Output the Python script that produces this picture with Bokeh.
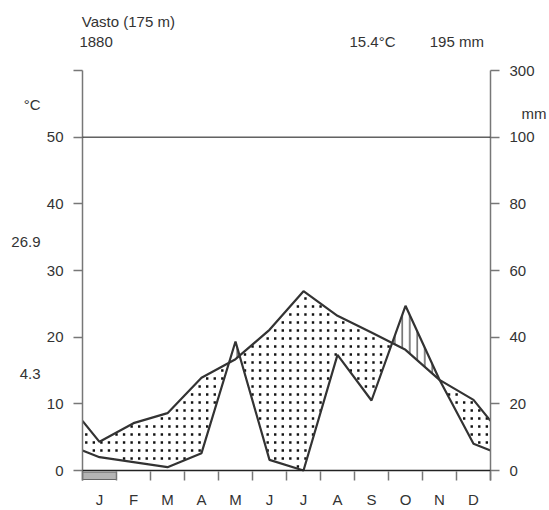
import numpy as np
from bokeh.plotting import figure
from bokeh.models import LinearAxis, FixedTicker, Span
from bokeh.embed import file_html
from bokeh.resources import INLINE

# ---------------- data ----------------
station = "Vasto (175 m)"
period = "1880"
mean_temp = 15.4
annual_precip = 195
months = ["J", "F", "M", "A", "M", "J", "J", "A", "S", "O", "N", "D"]
temp = [4.3, 7.1, 8.6, 13.9, 16.7, 21.1, 26.9, 23.2, 20.7, 18.1, 13.6, 10.6]
precip = [4.0, 2.5, 1.0, 5.2, 38.7, 3.2, 0.0, 34.7, 21.0, 49.4, 27.2, 8.0]
frost = [1, 0, 0, 0, 0, 0, 0, 0, 0, 0, 0, 0]
temp_ticks = [0, 10, 20, 30, 40, 50, 60]
temp_tick_labels = ["0", "10", "20", "30", "40", "50", ""]
precip_tick_labels = ["0", "20", "40", "60", "80", "100", "300"]

FONT = "Liberation Sans"
TXT = "#333333"
AX = "#777777"
FS = "15px"

# ---------------- derived series ----------------
def scale_p(v):
    return v / 2.0 if v <= 100 else 50 + (v - 100) / 20.0

xs = [0.0] + [i + 0.5 for i in range(12)] + [12.0]
t_edge = (temp[-1] + temp[0]) / 2.0
p_edge = (precip[-1] + precip[0]) / 2.0
ts = [t_edge] + list(temp) + [t_edge]
ps = [scale_p(v) for v in [p_edge] + list(precip) + [p_edge]]

# refine with crossing points
pts = [(xs[0], ts[0], ps[0])]
for i in range(len(xs) - 1):
    d0 = ts[i] - ps[i]
    d1 = ts[i + 1] - ps[i + 1]
    if d0 * d1 < 0:
        f = d0 / (d0 - d1)
        xc = xs[i] + f * (xs[i + 1] - xs[i])
        yc = ts[i] + f * (ts[i + 1] - ts[i])
        pts.append((xc, yc, yc))
    pts.append((xs[i + 1], ts[i + 1], ps[i + 1]))

humid_x, humid_y = [], []
seg_sign = []
for i in range(len(pts) - 1):
    dm = (pts[i][1] + pts[i + 1][1]) / 2 - (pts[i][2] + pts[i + 1][2]) / 2
    seg_sign.append(1 if dm >= 0 else -1)
i = 0
while i < len(seg_sign):
    j = i
    while j + 1 < len(seg_sign) and seg_sign[j + 1] == seg_sign[i]:
        j += 1
    a, b = i, j + 1
    if seg_sign[i] < 0:
        px = [pts[k][0] for k in range(a, b + 1)] + [pts[k][0] for k in range(b, a - 1, -1)]
        py = [pts[k][2] for k in range(a, b + 1)] + [pts[k][1] for k in range(b, a - 1, -1)]
        humid_x.append(px); humid_y.append(py)
    i = j + 1

# dotted (arid) area: regular dot grid between the two curves where temp > precip/2
dx, dy = 7.6 / 34.19, 8.0 / 6.667        # ~7.6 px by 8 px in data units
gx = np.arange(dx / 2, 12, dx)
gy = np.arange(dy / 2, 60, dy)
GX, GY = np.meshgrid(gx, gy)
t_at = np.interp(GX, xs, ts)
p_at = np.interp(GX, xs, ps)
mx, my = 1.5 / 34.19, 1.6 / 6.667
inside = (GY < t_at - my) & (GY > p_at + my)
dot_x = GX[inside]
dot_y = GY[inside]

# ---------------- figure ----------------
p = figure(width=549, height=510, x_range=(0, 12), y_range=(-1.5, 60),
           output_backend="svg", toolbar_location=None,
           min_border_left=82, min_border_right=57, min_border_top=70, min_border_bottom=30)
p.outline_line_color = None
p.xgrid.visible = False
p.ygrid.visible = False


def text_axis(ax, standoff):
    ax.axis_line_color = None
    ax.major_tick_line_color = None
    ax.minor_tick_line_color = None
    ax.major_tick_in = 0
    ax.major_tick_out = 0
    ax.major_label_standoff = standoff
    ax.major_label_text_font = FONT
    ax.major_label_text_font_size = FS
    ax.major_label_text_color = TXT


# bottom axis (months)
xa = p.below[0]
centers = [i + 0.5 for i in range(12)]
xa.ticker = FixedTicker(ticks=centers, minor_ticks=list(range(13)))
xa.major_label_overrides = dict(zip(centers, months))
xa.axis_line_color = None
xa.major_tick_line_color = None
xa.major_tick_in = 0
xa.major_tick_out = 0
xa.minor_tick_line_color = AX
xa.minor_tick_line_width = 1.5
xa.minor_tick_in = 9
xa.minor_tick_out = 0
xa.major_label_standoff = 10
xa.major_label_text_font = FONT
xa.major_label_text_font_size = FS
xa.major_label_text_color = TXT

# left axis (temperature)
ya = p.left[0]
ya.ticker = FixedTicker(ticks=temp_ticks)
ya.major_label_overrides = dict(zip(temp_ticks, temp_tick_labels))

# right axis (precipitation)
ra = LinearAxis(ticker=FixedTicker(ticks=temp_ticks),
                major_label_overrides=dict(zip(temp_ticks, precip_tick_labels)))
p.add_layout(ra, "right")

for ax in (ya, ra):
    ax.axis_line_color = AX
    ax.axis_line_width = 1.5
    ax.major_tick_line_color = AX
    ax.major_tick_line_width = 1.5
    ax.major_tick_out = 9
    ax.major_tick_in = 0
    ax.minor_tick_line_color = None
    ax.major_label_standoff = 10
    ax.major_label_text_font = FONT
    ax.major_label_text_font_size = FS
    ax.major_label_text_color = TXT

# unit / extreme annotations along the sides
left_pos = [54.9, 34.35, 14.6]
left_txt = ["°C", f"{max(temp):.1f}", f"{min(temp):.1f}"]
la = LinearAxis(ticker=FixedTicker(ticks=left_pos),
                major_label_overrides=dict(zip(left_pos, left_txt)))
text_axis(la, 3)
p.add_layout(la, "left")

right_pos = [53.6]
rb = LinearAxis(ticker=FixedTicker(ticks=right_pos),
                major_label_overrides=dict(zip(right_pos, ["mm"])))
text_axis(rb, -16)
p.add_layout(rb, "right")

# header rows
row2_pos = [0.40, 8.53, 11.01]
row2_txt = [period, f"{mean_temp:.1f}°C", f"{annual_precip} mm"]
ha = LinearAxis(ticker=FixedTicker(ticks=row2_pos),
                major_label_overrides=dict(zip(row2_pos, row2_txt)))
text_axis(ha, 21)
p.add_layout(ha, "above")

row1_pos = [1.35]
hb = LinearAxis(ticker=FixedTicker(ticks=row1_pos),
                major_label_overrides=dict(zip(row1_pos, [station])))
text_axis(hb, 0)
p.add_layout(hb, "above")

# reference lines
p.add_layout(Span(location=50, dimension="width", line_color="#111111", line_width=1))
p.add_layout(Span(location=0, dimension="width", line_color="#222222", line_width=1.5))

# arid (dots) / humid (vertical lines) areas
p.scatter(dot_x, dot_y, marker="square", size=2.4, fill_color="#111111", line_color=None)
p.patches(humid_x, humid_y, fill_alpha=0, line_alpha=0, hatch_pattern="|",
          hatch_color="#111111", hatch_scale=7.5, hatch_weight=1)

# curves
p.line(xs, ts, line_color="#333333", line_width=2.2)
p.line(xs, ps, line_color="#333333", line_width=2.2)

# frost months
fl = [i for i in range(12) if frost[i]]
p.quad(left=fl, right=[i + 1 for i in fl], bottom=-1.35, top=-0.25,
       fill_color="#b4b4b4", line_color="#666666", line_width=1)

open("out.html", "w").write(file_html(p, INLINE))
